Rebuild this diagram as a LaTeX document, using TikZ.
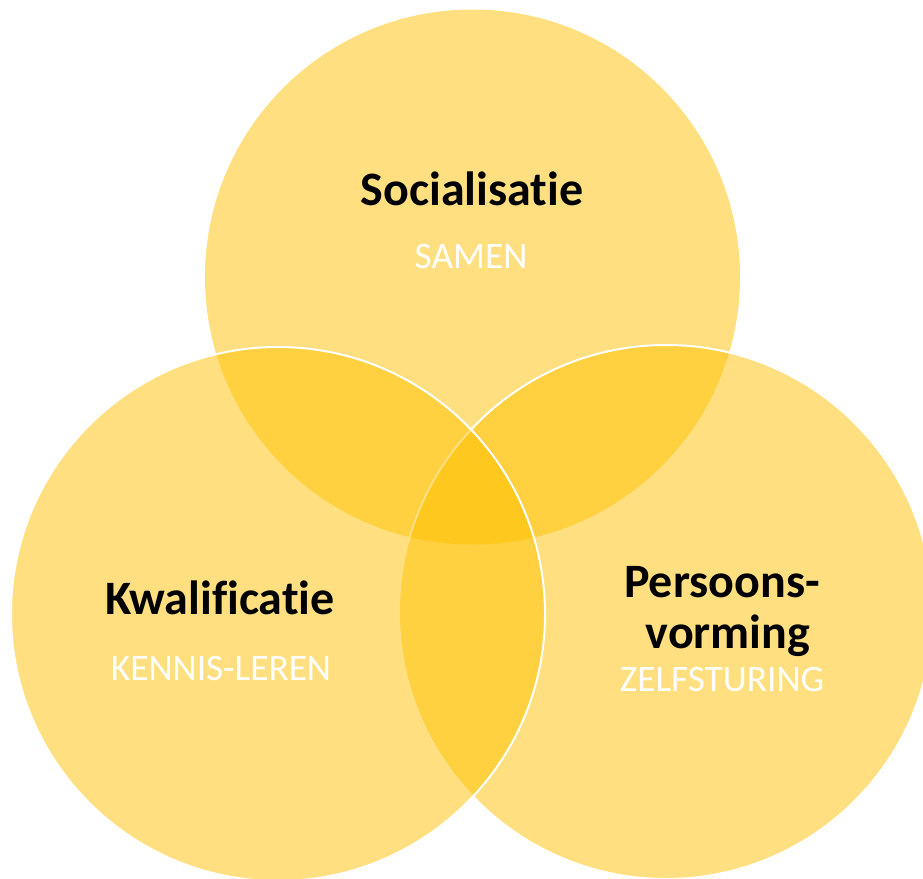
\documentclass[tikz,border=0pt]{standalone}
\usepackage{fontspec}
\setmainfont{Carlito}[Ligatures=NoCommon]
\usepackage{xcolor}
\usepackage{tikz}
\definecolor{venngold}{HTML}{FFC000}

\begin{document}
\begin{tikzpicture}[x=0.75pt, y=-0.75pt,
  ring/.style={fill=venngold, fill opacity=0.5},
  rim/.style={draw=white, line width=1.5pt},
  title/.style={font=\fontsize{36}{40}\selectfont\bfseries, text=black, anchor=base, inner sep=0pt},
  motto/.style={font=\fontsize{28}{32}\selectfont, text=white, anchor=base, inner sep=0pt}]
 \useasboundingbox (0,0) rectangle (923,878);
 \clip (0,0) rectangle (923,878);
 % top, right, left
 \fill [ring] (472.5,277) circle [radius=267.5];
 \fill [ring] (666,612) circle [radius=267];
 \draw [rim] (666,612) circle [radius=267];
 \fill [ring] (278,614) circle [radius=267];
 \draw [rim] (278,614) circle [radius=267];
 % labels
 \node [title] (soc) at (472,205) {Socialisatie};
 \node [motto] (samen) at (471,268) {SAMEN};
 \node [title] (kwal) at (220,614) {Kwalificatie};
 \node [motto] (kennis) at (221,680) {KENNIS-LEREN};
 \node [title] (pers) at (722,597) {Persoons-};
 \node [title] (vorm) at (728,648) {vorming};
 \node [motto] (zelf) at (722,691) {ZELFSTURING};
\end{tikzpicture}
\end{document}
